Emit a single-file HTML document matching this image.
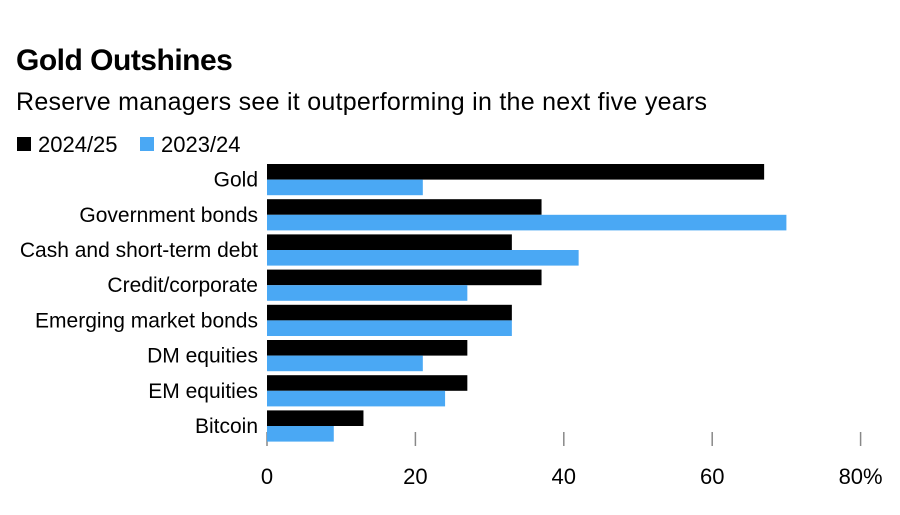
<!DOCTYPE html>
<html><head><meta charset="utf-8"><style>
body{margin:0;background:#fff;width:900px;height:510px;overflow:hidden;font-family:"Liberation Sans",Arial,sans-serif}
</style></head><body>
<svg id="chart" width="900" height="510" xmlns="http://www.w3.org/2000/svg">
<text x="16" y="70" font-size="30" font-weight="bold" fill="#000" letter-spacing="-0.5">Gold Outshines</text>
<text x="16" y="110" font-size="25" fill="#000" textLength="691">Reserve managers see it outperforming in the next five years</text>
<g>
<rect x="17" y="137" width="14" height="14" fill="#000"/>
<text x="38" y="152" font-size="22" fill="#000">2024/25</text>
<rect x="140" y="137" width="14" height="14" fill="#4aa8f4"/>
<text x="161" y="152" font-size="22" fill="#000">2023/24</text>
</g>
<g id="plot"></g>
</svg>
<script>
const categories=["Gold","Government bonds","Cash and short-term debt","Credit/corporate","Emerging market bonds","DM equities","EM equities","Bitcoin"];
const series2025=[67,37,33,37,33,27,27,13];
const series2024=[21,70,42,27,33,21,24,9];
const ticks=[0,20,40,60,80];
const tickLabels=["0","20","40","60","80%"];
const NS="http://www.w3.org/2000/svg";
const x0=267,pxPer=7.42,plotTop=164,rowH=35.2,barH=15.6;
const xs=v=>x0+v*pxPer;
const g=document.getElementById('plot');
function mk(t,a){const e=document.createElementNS(NS,t);for(const k in a)e.setAttribute(k,a[k]);g.appendChild(e);return e;}
ticks.forEach((t,i)=>{
  const l=mk('line',{x1:xs(t),x2:xs(t),y1:432,y2:446,stroke:'#888','stroke-width':1.5});
  
  
  const tx=mk('text',{x:xs(t),y:484,'font-size':22,'text-anchor':'middle',fill:'#000'});
  tx.textContent=tickLabels[i];
  
  
});
categories.forEach((c,i)=>{
  const y=plotTop+i*rowH;
  const b1=mk('rect',{x:x0,y:y,width:xs(series2025[i])-x0,height:barH,fill:'#000'});
  
  
  const b2=mk('rect',{x:x0,y:y+barH,width:xs(series2024[i])-x0,height:barH,fill:'#4aa8f4'});
  
  
  const t=mk('text',{x:258,y:y+barH+7,'font-size':21,'text-anchor':'end',fill:'#000'});
  t.textContent=c;
  
  
});
</script>
</body></html>
